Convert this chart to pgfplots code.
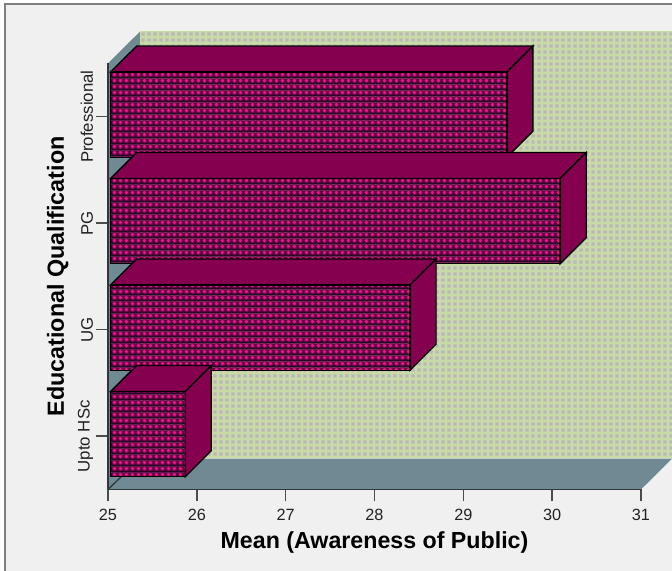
\documentclass[border=0pt]{standalone}
\usepackage{fontspec}
\setmainfont{Liberation Sans}
\usepackage{pgfplots}
\pgfplotsset{compat=1.18}
\usetikzlibrary{patterns}
\definecolor{panel}{HTML}{F0F0F0}
\definecolor{framegray}{HTML}{7F7F7F}
\definecolor{slate}{HTML}{6F8A92}
\definecolor{barside}{HTML}{85004F}
\definecolor{axisdark}{HTML}{2B3A3C}
\definecolor{ticktext}{HTML}{222222}
% woven tile of the bar fronts: dark grid over purple with bright dots
\pgfdeclarepatterninherentlycolored{barweave}{\pgfqpoint{0pt}{0pt}}{\pgfqpoint{4.65pt}{4.65pt}}{\pgfqpoint{4.65pt}{4.65pt}}{
  \definecolor{weavedark}{HTML}{2A0828}
  \pgfsetfillcolor{weavedark}
  \pgfpathrectangle{\pgfqpoint{0pt}{0pt}}{\pgfqpoint{4.65pt}{4.65pt}}\pgfusepath{fill}
  \definecolor{weavemid}{HTML}{7A0A55}
  \pgfsetfillcolor{weavemid}
  \pgfpathrectangle{\pgfqpoint{1.1pt}{1.1pt}}{\pgfqpoint{3.55pt}{3.55pt}}\pgfusepath{fill}
  \definecolor{weavebright}{HTML}{FF0A8C}
  \pgfsetfillcolor{weavebright}
  \pgfpathcircle{\pgfqpoint{2.87pt}{2.87pt}}{1.5pt}\pgfusepath{fill}
}
% dotted tile of the back wall
\pgfdeclarepatterninherentlycolored{wallweave}{\pgfqpoint{0pt}{0pt}}{\pgfqpoint{4.8pt}{4.8pt}}{\pgfqpoint{4.8pt}{4.8pt}}{
  \definecolor{wallgreen}{HTML}{C8DAA6}
  \definecolor{wallspot}{HTML}{B9B7BC}
  \pgfsetfillcolor{wallgreen}
  \pgfpathrectangle{\pgfqpoint{0pt}{0pt}}{\pgfqpoint{4.8pt}{4.8pt}}\pgfusepath{fill}
  \pgfsetfillcolor{wallspot}
  \pgfpathrectangle{\pgfqpoint{1.1pt}{1.1pt}}{\pgfqpoint{2.6pt}{2.6pt}}\pgfusepath{fill}
}
\begin{document}
\begin{tikzpicture}
\path[use as bounding box] (0pt,0pt) rectangle (504pt,-428.25pt);
\fill[white] (0pt,0pt) rectangle (504pt,-428.25pt);
\fill[panel] (3.75pt,-3pt) rectangle (504pt,-428.25pt);
\draw[framegray,line width=1.2pt] (3.75pt,-428.25pt) -- (3.75pt,-3pt) -- (504pt,-3pt);
\begin{axis}[
  at={(81pt,-367.1pt)}, anchor=south west,
  scale only axis, width=399.75pt, height=319.5pt,
  xmin=25, xmax=31, ymin=-0.5, ymax=3.5,
  clip=false, no markers, axis on top,
  axis lines=left, axis line style={-, axisdark, line width=1.2pt},
  xtick={25,...,31}, ytick={0,1,2,3},
  yticklabels={Upto HSc,UG,PG,Professional},
  tick align=outside, major tick length=9pt,
  tick style={color=black!70!white, line width=1.1pt},
  /pgf/number format/assume math mode=true,
  tick label style={font=\fontsize{12.2pt}{14pt}\selectfont, text=ticktext},
  xticklabel style={yshift=-2pt},
  yticklabel style={rotate=90, anchor=south, yshift=-1.3pt, xshift=0pt, font=\fontsize{12.6pt}{14pt}\selectfont},
  xlabel={\textbf{Mean (Awareness of Public)}},
  ylabel={\textbf{Educational Qualification}},
  every axis x label/.style={at={(axis description cs:0.5,0)}, anchor=base, yshift=-44pt, font=\fontsize{17.4pt}{20pt}\selectfont, text=black},
  every axis y label/.style={at={(axis description cs:-0.0826,0.5)}, rotate=90, anchor=base, font=\fontsize{17.5pt}{20pt}\selectfont, text=black},
]
% chart walls and floor
\addplot[draw=none, pattern=wallweave] coordinates {(25.36,-0.2) (31.35,-0.2) (31.35,3.8) (25.36,3.8)} -- cycle;
\addplot[draw=none, fill=slate] coordinates {(25,-0.5) (25.36,-0.21) (25.36,3.8) (25,3.5)} -- cycle;
\addplot[draw=none, fill=slate] coordinates {(25,-0.5) (31,-0.5) (31.35,-0.21) (25.36,-0.21)} -- cycle;
\addplot[axisdark, line width=1pt] coordinates {(25,-0.5) (25.36,-0.21)};
% Professional
\addplot[draw=black, line width=1pt, fill=barside] coordinates {(25.03,3.42) (25.323,3.664) (29.783,3.664) (29.49,3.42)} -- cycle;
\addplot[draw=black, line width=1pt, fill=barside] coordinates {(29.49,2.62) (29.783,2.864) (29.783,3.664) (29.49,3.42)} -- cycle;
\addplot[draw=black, line width=1pt, pattern=barweave] coordinates {(25.03,2.62) (29.49,2.62) (29.49,3.42) (25.03,3.42)} -- cycle;
% PG
\addplot[draw=black, line width=1pt, fill=barside] coordinates {(25.03,2.42) (25.323,2.664) (30.383,2.664) (30.09,2.42)} -- cycle;
\addplot[draw=black, line width=1pt, fill=barside] coordinates {(30.09,1.62) (30.383,1.864) (30.383,2.664) (30.09,2.42)} -- cycle;
\addplot[draw=black, line width=1pt, pattern=barweave] coordinates {(25.03,1.62) (30.09,1.62) (30.09,2.42) (25.03,2.42)} -- cycle;
% UG
\addplot[draw=black, line width=1pt, fill=barside] coordinates {(25.03,1.42) (25.323,1.664) (28.693,1.664) (28.40,1.42)} -- cycle;
\addplot[draw=black, line width=1pt, fill=barside] coordinates {(28.40,0.62) (28.693,0.864) (28.693,1.664) (28.40,1.42)} -- cycle;
\addplot[draw=black, line width=1pt, pattern=barweave] coordinates {(25.03,0.62) (28.40,0.62) (28.40,1.42) (25.03,1.42)} -- cycle;
% Upto HSc
\addplot[draw=black, line width=1pt, fill=barside] coordinates {(25.03,0.42) (25.323,0.664) (26.163,0.664) (25.87,0.42)} -- cycle;
\addplot[draw=black, line width=1pt, fill=barside] coordinates {(25.87,-0.38) (26.163,-0.136) (26.163,0.664) (25.87,0.42)} -- cycle;
\addplot[draw=black, line width=1pt, pattern=barweave] coordinates {(25.03,-0.38) (25.87,-0.38) (25.87,0.42) (25.03,0.42)} -- cycle;
\end{axis}
\end{tikzpicture}
\end{document}
